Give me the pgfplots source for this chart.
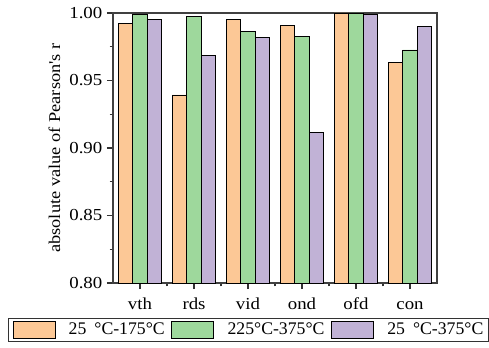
\documentclass[border=0pt]{standalone}
\usepackage{fontspec}
\setmainfont{Liberation Serif}
\newfontfamily\wfont{Liberation Serif}[FakeStretch=1.12]
\usepackage{pgfplots}
\pgfplotsset{compat=1.18}
\definecolor{cor}{HTML}{FCC896}
\definecolor{cgr}{HTML}{9ED89C}
\definecolor{cpu}{HTML}{C1B2D6}
\begin{document}
\begin{tikzpicture}
\useasboundingbox (-84.75pt,-48pt) rectangle (282pt,212.25pt);
\begin{axis}[
 at={(0,0)}, anchor=south west, scale only axis,
 width=243pt, height=202.5pt,
 xmin=-0.5, xmax=5.5, ymin=0.8, ymax=1.0,
 xtick={0,1,2,3,4,5}, xticklabels={vth,rds,vid,ond,ofd,con},
 minor xtick={0.5,1.5,2.5,3.5,4.5},
 ytick={0.80,0.85,0.90,0.95,1.00}, minor ytick={0.825,0.875,0.925,0.975},
 yticklabel style={/pgf/number format/.cd,fixed,fixed zerofill,precision=2},
 /pgf/number format/assume math mode=true,
 ticklabel style={font=\fontsize{12.6}{14}\wfont},
 xticklabel style={yshift=-3pt, text height=8.8pt, text depth=0.3pt},
 tick align=outside, major tick length=4.5pt, minor tick length=2.5pt,
 tick style={black!80, line width=0.8pt},
 axis line style={black!75, line width=1.1pt},
 ytick pos=left, xtick pos=bottom,
 ylabel={absolute value of Pearson's r},
 ylabel style={font=\fontsize{12.3}{14}\wfont},
 ybar=0pt, bar width=10.9pt,
 legend columns=3,
 legend image code/.code={\draw[#1,draw=black,line width=0.6pt] (0pt,-6.4pt) rectangle (31.5pt,6.4pt);},
 legend style={at={(axis description cs:-0.324,-0.1296)}, anchor=north west,
   draw=black!80, line width=0.8pt, font=\fontsize{13.3}{15}\selectfont,
   inner xsep=3pt, inner ysep=1.5pt, row sep=0pt,
   nodes={inner xsep=1pt, inner ysep=2pt},
   /tikz/every even column/.append style={column sep=4pt},
   /tikz/every odd column/.append style={column sep=9pt}},
]
\addplot[fill=cor, draw=black, line width=0.6pt] coordinates {(0,0.9924) (1,0.9393) (2,0.9953) (3,0.9909) (4,1.0) (5,0.9632)};
\addplot[fill=cgr, draw=black, line width=0.6pt] coordinates {(0,0.9988) (1,0.9975) (2,0.9862) (3,0.9825) (4,1.0) (5,0.9726)};
\addplot[fill=cpu, draw=black, line width=0.6pt] coordinates {(0,0.9953) (1,0.9687) (2,0.9820) (3,0.9113) (4,0.9988) (5,0.9901)};
\legend{25\hspace{6pt}°C-175°C, 225°C-375°C, 25\hspace{6pt}°C-375°C}
\end{axis}
\end{tikzpicture}
\end{document}
